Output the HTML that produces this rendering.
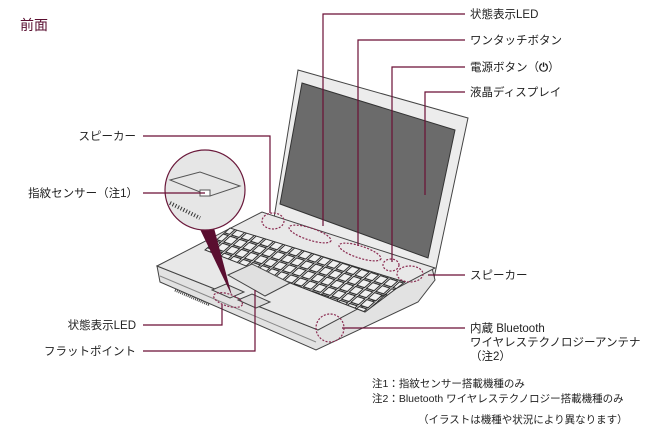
<!DOCTYPE html>
<html><head><meta charset="utf-8"><style>
body{margin:0;background:#fff;width:650px;height:430px;overflow:hidden}
svg{display:block}
text{font-family:"Liberation Sans","Noto Sans CJK JP",sans-serif;font-size:11.5px;fill:#222}
</style></head><body>
<svg width="650" height="430" viewBox="0 0 650 430">
<defs>
<pattern id="keys" width="10" height="9" patternUnits="userSpaceOnUse" patternTransform="rotate(18) skewX(-30)">
<rect x="0.5" y="0.5" width="8" height="7.5" fill="#f0f0f0" stroke="#222" stroke-width="1.1"/>
</pattern>
</defs>
<text x="20" y="30" style="font-size:14px;fill:#5a0e30">前面</text>

<!-- screen -->
<polygon points="298,70 468,118 434,278 274,218" fill="#ececec" stroke="#444" stroke-width="1"/>
<polygon points="302,83 455,130 428,258 280,204" fill="#6b6b6b" stroke="#333"/>
<!-- base -->
<polygon points="157,266 160,282 316,350 418,302 435,280 432,268 318,330" fill="#e2e2e2" stroke="#444"/>
<line x1="160" y1="276" x2="316" y2="342" stroke="#888"/>
<polygon points="157,266 262,212 435,268 318,330" fill="#e8e8e8" stroke="#444"/>
<polygon points="205,250 230,228 405,282 365,312" fill="url(#keys)" stroke="#333"/>
<polygon points="228,275 252,264 290,283 265,296" fill="#e0e0e0" stroke="#444"/>
<polygon points="212,290 226,284 244,292 230,298" fill="#ddd" stroke="#444"/>
<polygon points="238,300 252,294 270,302 256,308" fill="#ddd" stroke="#444"/>
<line x1="175" y1="290" x2="210" y2="305" stroke="#444" stroke-width="3" stroke-dasharray="1,1"/>

<!-- magnifier -->
<polygon points="198,225 214,228 232,296" fill="#5a0e30"/>
<circle cx="205" cy="190" r="40" fill="#e6e6e6" stroke="#6b1a3c" stroke-width="1.2"/>
<polygon points="170,180 200,172 240,186 210,196" fill="none" stroke="#555"/>
<rect x="200" y="190" width="10" height="6" fill="#fff" stroke="#555"/>
<line x1="170" y1="203" x2="200" y2="218" stroke="#333" stroke-width="4" stroke-dasharray="1,2"/>

<g fill="none" stroke="#6b0f35" stroke-width="1.2">
<polyline points="465,14 323,14 323,226"/>
<polyline points="465,40 358,40 358,246"/>
<polyline points="465,67 392,67 392,262"/>
<polyline points="465,92 425,92 425,195"/>
<polyline points="143,136 270,136 270,213"/>
<line x1="143" y1="193" x2="205" y2="193"/>
<line x1="428" y1="275" x2="465" y2="275"/>
<line x1="342" y1="328" x2="465" y2="328"/>
<polyline points="143,325 222,325 222,304"/>
<polyline points="143,351 255,351 255,290"/>
</g>
<g fill="none" stroke="#8a2a50" stroke-width="1.2" stroke-dasharray="2,1.5">
<ellipse cx="273" cy="221" rx="11" ry="8"/>
<ellipse cx="310" cy="234" rx="22" ry="6" transform="rotate(18 310 234)"/>
<ellipse cx="360" cy="252" rx="22" ry="6" transform="rotate(18 360 252)"/>
<ellipse cx="391" cy="265" rx="8" ry="6"/>
<ellipse cx="410" cy="274" rx="13" ry="8"/>
<ellipse cx="228" cy="300" rx="15" ry="6" transform="rotate(18 228 300)"/>
<circle cx="330" cy="328" r="14"/>
</g>

<text x="470" y="18">状態表示LED</text>
<text x="470" y="44">ワンタッチボタン</text>
<text x="470" y="71">電源ボタン（<tspan style="font-weight:bold">⏻</tspan>）</text>
<text x="470" y="96">液晶ディスプレイ</text>
<text x="136" y="140" text-anchor="end">スピーカー</text>
<text x="138" y="197" text-anchor="end">指紋センサー（注1）</text>
<text x="470" y="279">スピーカー</text>
<text x="470" y="332">内蔵 Bluetooth</text>
<text x="470" y="346">ワイヤレステクノロジーアンテナ</text>
<text x="470" y="360">（注2）</text>
<text x="136" y="329" text-anchor="end">状態表示LED</text>
<text x="136" y="355" text-anchor="end">フラットポイント</text>
<text x="372" y="387" style="font-size:10.5px">注1：指紋センサー搭載機種のみ</text>
<text x="372" y="402" style="font-size:10.5px">注2：Bluetooth ワイヤレステクノロジー搭載機種のみ</text>
<text x="418" y="423" style="font-size:10.5px">（イラストは機種や状況により異なります）</text>
</svg>
</body></html>
